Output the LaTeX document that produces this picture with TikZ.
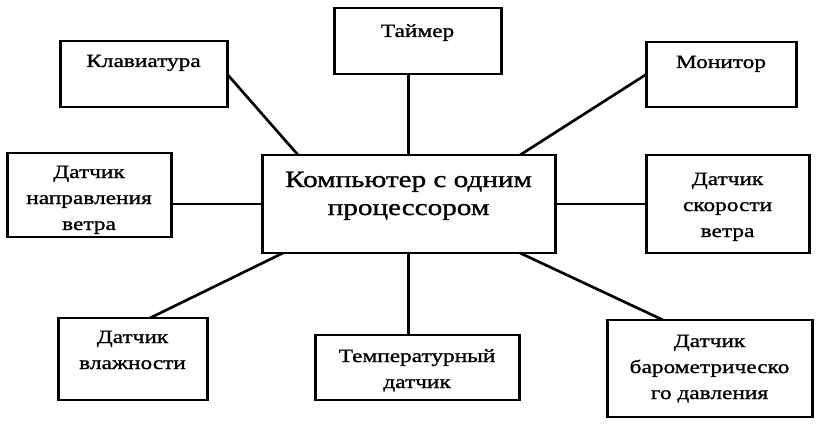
\documentclass[tikz,border=0pt]{standalone}
\usepackage{fontspec}
\setmainfont{Liberation Serif}[FakeStretch=1.25, FakeBold=1.2]
\usetikzlibrary{positioning}
\usetikzlibrary{calc}

\newcommand{\lblfont}{\fontsize{14pt}{19.5pt}\selectfont}
\newcommand{\cpufont}{\fontsize{17.5pt}{21pt}\selectfont}

\begin{document}
\begin{tikzpicture}[
    box/.style={rectangle, draw, line width=2.2pt, inner sep=0pt, outer sep=0pt, align=center, font=\lblfont},
    tb/.style 2 args={text height=#1, text depth=#2},
    link/.style={line width=2pt}
]
\useasboundingbox (0,0) rectangle (612pt,-318pt);

% Central computer
\node[box, font=\cpufont, minimum width=219.75pt, tb={45pt}{28.5pt}] (cpu) at (306.4pt,-153pt) {Компьютер с одним\\процессором};

% Top row
\node[box, minimum width=125.25pt, tb={19.5pt}{30pt}, above left=36pt and 26.25pt of cpu] (kbd) {Клавиатура};
\node[box, minimum width=125.25pt, tb={21.75pt}{27.75pt}, above=60.75pt of cpu, xshift=6.75pt] (timer) {Таймер};
\node[box, minimum width=112.5pt, tb={19.5pt}{29.25pt}, above right=36pt and 68.25pt of cpu] (monitor) {Монитор};

% Middle row
\node[box, minimum width=123pt, tb={57.75pt}{5.25pt}, left=68.25pt of cpu, yshift=6.75pt] (winddir) {Датчик\\направления\\ветра};
\node[box, minimum width=122.25pt, tb={61.5pt}{12pt}, right=68.25pt of cpu] (windspeed) {Датчик\\скорости\\ветра};

% Bottom row
\node[box, minimum width=111.75pt, tb={38.25pt}{23.25pt}, below left=48.75pt and 41.25pt of cpu] (humid) {Датчик\\влажности};
\node[box, minimum width=153pt, tb={39.75pt}{9pt}, below=61.5pt of cpu, xshift=6.4pt] (temp) {Температурный\\датчик};
\node[box, minimum width=153.75pt, tb={59.25pt}{13.5pt}, below right=50.25pt and 39pt of cpu] (baro) {Датчик\\барометрическо\\го давления};

% Links
\draw[link] (kbd.east) -- ($(cpu.north west)+(27pt,0)$);
\draw[link] (cpu.north) -- (cpu.north |- timer.south);
\draw[link] (monitor.west) -- ($(cpu.north east)+(-26.25pt,0)$);
\draw[link] (cpu.west) -- (cpu.west -| winddir.east);
\draw[link] (cpu.east) -- (windspeed.west);
\draw[link] ($(cpu.south west)+(15.75pt,0)$) -- ($(humid.north west)+(69pt,0)$);
\draw[link] (cpu.south) -- (cpu.south |- temp.north);
\draw[link] ($(cpu.south east)+(-26.25pt,0)$) -- ($(baro.north west)+(42pt,0)$);

\end{tikzpicture}
\end{document}
